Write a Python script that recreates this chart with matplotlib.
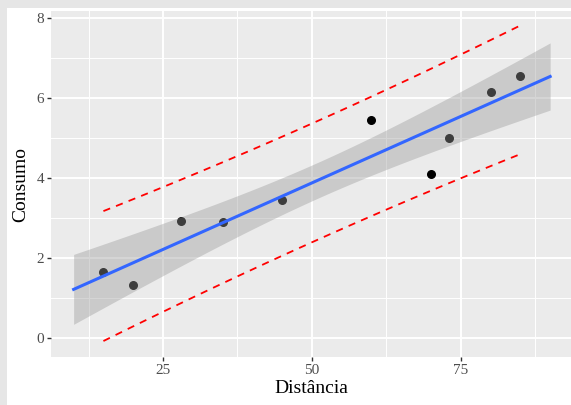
import numpy as np
import matplotlib.pyplot as plt
import matplotlib.patches as mpatches

# Distância x Consumo
distancia = [15, 20, 28, 35, 45, 60, 70, 73, 80, 85]
consumo = [1.65, 1.32, 2.93, 2.90, 3.45, 5.45, 4.10, 5.00, 6.15, 6.55]
x_ticks = [25, 50, 75]
y_ticks = [0, 2, 4, 6, 8]
fit_range = [10, 90]
t_crit = 2.306  # t(0.975, df=8)

x = np.array(distancia)
y = np.array(consumo)
n = len(x)
b1, b0 = np.polyfit(x, y, 1)
resid = y - (b0 + b1 * x)
s = np.sqrt(np.sum(resid ** 2) / (n - 2))
sxx = np.sum((x - x.mean()) ** 2)

xs = np.linspace(fit_range[0], fit_range[1], 100)
ys = b0 + b1 * xs
se_fit = s * np.sqrt(1 / n + (xs - x.mean()) ** 2 / sxx)

xp = np.linspace(x.min(), x.max(), 100)
yp = b0 + b1 * xp
se_pred = s * np.sqrt(1 + 1 / n + (xp - x.mean()) ** 2 / sxx)

plt.rcParams['font.family'] = ['Liberation Serif', 'DejaVu Serif']

fig = plt.figure(figsize=(5.71, 4.05), dpi=100, facecolor='#e6e6e6')
fig.patches.append(mpatches.Rectangle((7 / 571, 0), 1, 1 - 8 / 405, transform=fig.transFigure,
                                      facecolor='white', edgecolor='none', zorder=-1))
ax = fig.add_axes([51 / 571, 48 / 405, 1 - 51 / 571, 346 / 405])
ax.set_facecolor('#EBEBEB')
for sp in ax.spines.values():
    sp.set_visible(False)

ax.scatter(x, y, s=30, color='black', zorder=3)
ax.fill_between(xs, ys - t_crit * se_fit, ys + t_crit * se_fit, color='#999999', alpha=0.4,
                linewidth=0, zorder=4)
ax.plot(xs, ys, color='#3366FF', lw=2.2, zorder=5)
ax.plot(xp, yp + t_crit * se_pred, color='red', lw=1.3, dashes=(4, 3.5), zorder=5)
ax.plot(xp, yp - t_crit * se_pred, color='red', lw=1.3, dashes=(4, 3.5), zorder=5)

ax.set_xlim(6.2, 93.5)
ax.set_ylim(-0.475, 8.175)
ax.set_xticks(x_ticks)
ax.set_yticks(y_ticks)
ax.set_xticks([12.5, 37.5, 62.5, 87.5], minor=True)
ax.set_yticks([1, 3, 5, 7], minor=True)
ax.grid(which='major', color='white', lw=1.4)
ax.grid(which='minor', color='white', lw=0.7)
ax.set_axisbelow(True)
ax.tick_params(which='major', length=3, width=1, color='#333333', labelcolor='#4D4D4D',
               labelsize=11, pad=2)
ax.tick_params(which='minor', length=0)

ax.set_xlabel('Distância', fontsize=14, labelpad=2)
ax.set_ylabel('Consumo', fontsize=14, labelpad=5)

fig.savefig('out.png', dpi=100, facecolor=fig.get_facecolor())
